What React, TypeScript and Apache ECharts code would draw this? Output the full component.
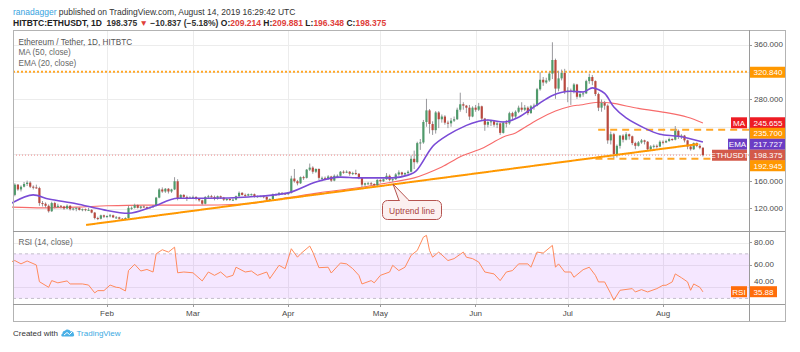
import React, { useEffect, useRef } from "react";
import * as echarts from "echarts";

const FONT = "Liberation Sans";

// Day index 0 = 2019-01-01
const monthDays = [31, 59, 90, 120, 151, 181, 212];
const monthLabels = ["Feb", "Mar", "Apr", "May", "Jun", "Jul", "Aug"];
const priceGrid = [120, 160, 200, 240, 280, 320, 360];
const priceLabels = [120, 160, 280, 360];
const rsiGrid = [40, 60, 80];
const rsiLabels = [60, 80];

// daily candles [open, high, low, close], HITBTC ETH/USDT from Jan 1 2019
const candles: number[][] = [
  [133, 142, 131, 140], [140, 157, 138, 155], [155, 156, 146, 148], [148, 154, 145, 152], [152, 159, 151, 156],
  [156, 161, 153, 158], [158, 160, 150, 152], [152, 154, 148, 151], [151, 155, 149, 150], [150, 152, 124, 128],
  [128, 131, 123, 127], [127, 129, 121, 124], [124, 126, 114, 116], [116, 130, 115, 128], [128, 130, 120, 122],
  [122, 127, 121, 124], [124, 125, 120, 123], [123, 124, 118, 120], [120, 126, 119, 124], [124, 125, 117, 119],
  [119, 121, 117, 120], [120, 122, 116, 121], [121, 122, 117, 118], [118, 120, 116, 119], [119, 120, 116, 118],
  [118, 121, 117, 118], [118, 119, 113, 114], [114, 115, 104, 106], [106, 108, 103, 105], [105, 111, 104, 110],
  [110, 111, 106, 108],
  [108, 110, 106, 109], [109, 112, 107, 110], [110, 111, 106, 107], [107, 109, 105, 107], [107, 108, 104, 105],
  [105, 106, 102, 104], [104, 107, 103, 106], [106, 124, 105, 121], [121, 123, 118, 121], [121, 127, 120, 125],
  [125, 126, 120, 121], [121, 124, 119, 123], [123, 125, 121, 122], [122, 123, 119, 121], [121, 123, 120, 122],
  [122, 125, 121, 124], [124, 137, 123, 136], [136, 150, 135, 148], [148, 151, 143, 145], [145, 150, 143, 149],
  [149, 150, 142, 145], [145, 149, 143, 148], [148, 166, 147, 160], [160, 163, 132, 135], [135, 141, 134, 140],
  [140, 141, 135, 137], [137, 139, 131, 136], [136, 138, 134, 136],
  [136, 139, 135, 137], [137, 138, 132, 134], [134, 135, 130, 132], [132, 133, 125, 127], [127, 138, 126, 137],
  [137, 140, 135, 138], [138, 140, 136, 137], [137, 139, 132, 134], [134, 139, 133, 138], [138, 139, 134, 136],
  [136, 137, 131, 133], [133, 135, 131, 134], [134, 135, 131, 133], [133, 135, 131, 133], [133, 139, 132, 138],
  [138, 145, 137, 143], [143, 144, 139, 140], [140, 142, 137, 139], [139, 142, 138, 141], [141, 142, 139, 141],
  [141, 142, 136, 137], [137, 139, 136, 138], [138, 139, 137, 138], [138, 139, 135, 137], [137, 138, 132, 133],
  [133, 135, 132, 134], [134, 142, 133, 141], [141, 142, 139, 141], [141, 144, 139, 143], [143, 144, 140, 142],
  [142, 143, 140, 141],
  [141, 144, 140, 143], [143, 168, 142, 164], [164, 178, 158, 160], [160, 162, 154, 157], [157, 167, 156, 166],
  [166, 168, 162, 165], [165, 178, 164, 177], [177, 186, 175, 180], [180, 182, 171, 174], [174, 179, 172, 178],
  [178, 179, 162, 165], [165, 167, 160, 165], [165, 167, 162, 164], [164, 169, 162, 167], [167, 168, 159, 161],
  [161, 170, 160, 168], [168, 170, 166, 168], [168, 175, 167, 174], [174, 176, 171, 173], [173, 176, 172, 174],
  [174, 175, 168, 171], [171, 174, 169, 172], [172, 177, 169, 171], [171, 172, 163, 165], [165, 166, 151, 155],
  [155, 158, 152, 157], [157, 159, 155, 157], [157, 159, 154, 156], [156, 157, 151, 154], [154, 163, 153, 162],
  [162, 163, 158, 160], [160, 164, 159, 163], [163, 172, 162, 168], [168, 170, 160, 162], [162, 164, 159, 163],
  [163, 172, 162, 170], [170, 176, 168, 173], [173, 174, 167, 170], [170, 173, 168, 172], [172, 176, 170, 174],
  [174, 198, 173, 193], [193, 205, 178, 188], [188, 218, 186, 216], [216, 222, 206, 217], [217, 250, 215, 247],
  [247, 281, 240, 264], [264, 266, 230, 244], [244, 248, 228, 235], [235, 263, 230, 261], [261, 263, 238, 251],
  [251, 258, 246, 255], [255, 257, 243, 246], [246, 249, 238, 245], [245, 253, 240, 249], [249, 255, 247, 251],
  [251, 268, 250, 265], [265, 290, 262, 273], [273, 276, 265, 271], [271, 272, 260, 268], [268, 272, 250, 255],
  [255, 270, 254, 268],
  [268, 272, 262, 265], [265, 275, 263, 270], [270, 271, 249, 252], [252, 253, 234, 243], [243, 251, 239, 247],
  [247, 250, 241, 248], [248, 250, 240, 243], [243, 248, 238, 245], [245, 246, 228, 231], [231, 248, 230, 246],
  [246, 250, 239, 245], [245, 262, 243, 260], [260, 262, 251, 255], [255, 264, 253, 262], [262, 271, 260, 268],
  [268, 276, 262, 265], [265, 272, 263, 268], [268, 270, 257, 260], [260, 272, 259, 270], [270, 274, 265, 271],
  [271, 297, 270, 295], [295, 320, 293, 309], [309, 313, 300, 305], [305, 312, 303, 308], [308, 320, 306, 318],
  [318, 364, 310, 338], [338, 340, 281, 296], [296, 322, 292, 311], [311, 324, 308, 319], [319, 325, 288, 291],
  [291, 298, 276, 293], [293, 296, 272, 291], [291, 304, 289, 302], [302, 303, 281, 284], [284, 292, 282, 288],
  [288, 292, 284, 289], [289, 309, 288, 307], [307, 318, 303, 313], [313, 316, 301, 307], [307, 308, 285, 288],
  [288, 290, 263, 268], [268, 280, 262, 275], [275, 278, 265, 271], [271, 273, 215, 220], [220, 233, 214, 229],
  [229, 231, 194, 200], [200, 214, 195, 212], [212, 228, 208, 227], [227, 229, 217, 221], [221, 232, 220, 229],
  [229, 230, 221, 226], [226, 227, 213, 216], [216, 218, 207, 212], [212, 219, 211, 217], [217, 222, 215, 220],
  [220, 221, 214, 218], [218, 219, 204, 207], [207, 213, 205, 211], [211, 214, 208, 212], [212, 214, 208, 211],
  [211, 220, 210, 218],
  [218, 220, 214, 217], [217, 221, 216, 219], [219, 224, 218, 222], [222, 223, 219, 221], [221, 241, 220, 234],
  [234, 236, 222, 225], [225, 229, 222, 227], [227, 228, 217, 220], [220, 221, 207, 211], [211, 213, 205, 207],
  [207, 217, 206, 216], [216, 217, 210, 212], [212, 215, 207, 209.214], [209.214, 209.881, 196.348, 198.375],
];

// [day, value]
const ma50 = [
  [0, 122], [10, 121], [21, 122], [31, 124], [43, 125], [59, 125], [77, 127], [90, 136], [100, 143], [112, 150],
  [120, 156], [131, 165], [140, 181], [146, 196], [150, 203], [153, 208], [160, 225], [164, 231], [171, 250],
  [177, 263], [182, 270], [185, 272], [191, 276], [195, 275], [204, 267], [214, 260], [220, 254], [225, 245.655],
];
const ema20 = [
  [0, 128], [7, 140], [12, 134], [21, 127], [30, 118], [38, 113], [46, 123], [54, 135], [64, 135], [77, 137],
  [90, 143], [99, 159], [107, 166], [113, 165], [118, 165], [124, 165], [129, 169], [132, 177], [137, 211],
  [142, 228], [148, 242], [152, 248], [155, 250], [160, 247], [165, 254], [171, 272], [176, 286], [182, 292],
  [186, 291], [189, 297], [193, 289], [196, 269], [200, 253], [206, 238], [211, 229], [217, 226], [225, 217.727],
];
const rsi14 = [
  [0, 63], [1, 64], [3, 61], [5, 63.6], [8, 60], [9, 45], [12, 40], [13, 46], [15, 44], [18, 45.7], [19, 43],
  [23, 43], [25, 42], [27, 35], [28, 37], [30, 37], [32, 42], [34, 40], [35, 39.7], [37, 36.7], [38, 55],
  [40, 60.6], [42, 54.6], [44, 56], [46, 53.7], [47, 70], [49, 73.7], [51, 71.6], [53, 76], [54, 53],
  [56, 53.7], [59, 53], [62, 45.7], [64, 53.7], [66, 50.7], [68, 53.7], [70, 49], [72, 50.7], [73, 58],
  [76, 53.7], [78, 54.6], [80, 50.7], [83, 53.7], [84, 47.8], [87, 59.7], [89, 56.7], [91, 74.6], [93, 67],
  [94, 70], [97, 77], [98, 71.6], [100, 57.6], [103, 58], [104, 52.8], [107, 61.8], [109, 61], [111, 56.7],
  [113, 50.7], [114, 43], [117, 46], [118, 44], [120, 50.7], [123, 53.7], [124, 59.7], [126, 55], [128, 58],
  [130, 68.7], [132, 73], [134, 85], [135, 86.6], [136, 73], [137, 67], [139, 71.6], [142, 64], [144, 65.7],
  [147, 71.6], [148, 67], [150, 65.7], [152, 62.7], [154, 53.7], [157, 52], [159, 46], [161, 53.7], [163, 55],
  [165, 61], [168, 61], [169, 58], [171, 71.6], [173, 70.7], [176, 77.6], [177, 58], [178, 61], [180, 53.7],
  [182, 53.7], [183, 49], [186, 55.8], [188, 58], [190, 50.7], [191, 44.8], [193, 44.8], [195, 34.3],
  [196, 28.4], [198, 37.3], [202, 38.8], [203, 35.8], [205, 37.9], [207, 35.8], [210, 38.8], [212, 41.8],
  [213, 41.8], [215, 44.8], [216, 52], [218, 48.6], [220, 44.8], [221, 37.3], [222, 43], [224, 40], [225, 35.88],
];

const trendLine = [[24.2, 95.9], [223.5, 214.6]];
const resistance = 320.84;
const rangeTop = 235.7;
const rangeBottom = 192.945;
const lastPrice = 198.375;
const lastMA = 245.655;
const lastEMA = 217.727;
const lastRSI = 35.88;

const X_MIN = 0.4;
const X_MAX = 240;

echarts.graphic.registerShape(
  "tvlogo",
  echarts.graphic.extendPath(
    "M1 9 L13 9 C14.6 9 15.2 7.2 14.2 6.2 C14.4 3.8 12.4 2.6 10.6 3.2 C9.6 0.6 5.8 0.2 4.4 2.6 C2.4 2.6 1.4 4.2 1.8 5.6 C0.2 6.2 -0.2 8.2 1 9 Z",
    {}
  ) as any
);

function hLines(xAxisIndex: number, yAxisIndex: number, values: number[], color: string) {
  return {
    type: "custom", xAxisIndex, yAxisIndex, silent: true, z: 1,
    data: values.map((v) => [X_MIN, v]),
    renderItem: (params: any, api: any) => {
      const cs = params.coordSys;
      const y = Math.round(api.coord([api.value(0), api.value(1)])[1]) + 0.5;
      return { type: "line", shape: { x1: cs.x, y1: y, x2: cs.x + cs.width, y2: y }, style: { stroke: color, lineWidth: 1 } };
    },
  };
}
function vLines(xAxisIndex: number, yAxisIndex: number, values: number[], yRef: number, color: string) {
  return {
    type: "custom", xAxisIndex, yAxisIndex, silent: true, z: 1,
    data: values.map((v) => [v, yRef]),
    renderItem: (params: any, api: any) => {
      const cs = params.coordSys;
      const x = Math.round(api.coord([api.value(0), api.value(1)])[0]) + 0.5;
      return { type: "line", shape: { x1: x, y1: cs.y, x2: x, y2: cs.y + cs.height }, style: { stroke: color, lineWidth: 1 } };
    },
  };
}
function levelLine(data: number[][], color: string, width: number, dash: number[], z = 4, xi = 0, yi = 0) {
  return {
    type: "line", xAxisIndex: xi, yAxisIndex: yi, data, silent: true, showSymbol: false, z,
    lineStyle: { color, width, type: dash },
  };
}

function buildGraphic() {
  const g: any[] = [];
  const txt = (x: number, y: number, text: string, fill: string, size: number, extra: any = {}, z = 120) =>
    g.push({ type: "text", x, y, z, style: { text, fill, fontSize: size, fontFamily: FONT, verticalAlign: "middle", ...extra } });
  const ln = (x1: number, y1: number, x2: number, y2: number, stroke: string) =>
    g.push({ type: "line", z: 110, shape: { x1, y1, x2, y2 }, style: { stroke, lineWidth: 1 } });
  const badge = (x: number, cy: number, w: number, text: string, bg: string, center = false) => {
    g.push({ type: "rect", z: 115, shape: { x, y: cy - 5.5, width: w, height: 11 }, style: { fill: bg } });
    txt(center ? x + w / 2 : x + 3.5, cy + 0.5, text, "#ffffff", 8, center ? { align: "center" } : {});
  };

  // header
  txt(13, 11.5, "{u|ranadagger} published on TradingView.com, August 14, 2019 16:29:42 UTC", "#333333", 8.5, {
    rich: { u: { fill: "#36a3e0", fontSize: 8.5, fontFamily: FONT } },
  });
  txt(13, 22.5,
    "{b|HITBTC:ETHUSDT, 1D}  198.375 {r|▼} −10.837 (−5.18%) {b|O:}{r|209.214} {b|H:}{r|209.881} {b|L:}{r|196.348} {b|C:}{r|198.375}",
    "#333333", 8.5, {
      fontWeight: 600,
      rich: {
        b: { fill: "#222222", fontWeight: "bold", fontSize: 8.5, fontFamily: FONT },
        r: { fill: "#e0403a", fontSize: 8.5, fontFamily: FONT, fontWeight: 600 },
      },
    });

  // frame
  const frame = "#b3b3b3";
  ln(13, 30.5, 785, 30.5, frame);
  ln(13.5, 30, 13.5, 321, frame);
  ln(785.5, 30, 785.5, 322, frame);
  ln(13, 321.5, 786, 321.5, frame);
  ln(749.5, 30, 749.5, 321, "#9a9a9a");
  ln(13, 231.5, 785, 231.5, "#9a9a9a");
  ln(13, 304.5, 785, 304.5, "#9a9a9a");

  // legends
  txt(18.5, 42, "Ethereum / Tether, 1D, HITBTC", "#555555", 8.2);
  txt(18.5, 52.5, "MA (50, close)", "#666666", 8.2);
  txt(18.5, 63, "EMA (20, close)", "#666666", 8.2);
  txt(18.5, 242.5, "RSI (14, close)", "#666666", 8.2);

  // RSI 40 scale label, partly under the RSI badge
  txt(754, 281.8, (40).toFixed(2), "#4a4a4a", 8, {}, 105);

  // price scale badges
  badge(750, 72.2, 35, resistance.toFixed(3), "#ff9800");
  badge(731, 122.8, 16, "MA", "#ee1c24", true);
  badge(750, 122.8, 35, lastMA.toFixed(3), "#ee1c24");
  badge(750, 133.3, 35, rangeTop.toFixed(3), "#ff9800");
  badge(728, 144.2, 19, "EMA", "#6b3cc4", true);
  badge(750, 144.2, 35, lastEMA.toFixed(3), "#6b3cc4");
  badge(712, 155.3, 35, "ETHUSDT", "#d35a4a", true);
  badge(750, 155.3, 35, lastPrice.toFixed(3), "#d35a4a");
  badge(750, 165.7, 35, rangeBottom.toFixed(3), "#ff9800");
  badge(731, 291.7, 16, "RSI", "#ff6d0a", true);
  badge(750, 291.7, 27, lastRSI.toFixed(2), "#ff6d0a");

  // callout
  const cFill = "#fcf0f0";
  const cStroke = "#b5534f";
  g.push({ type: "polygon", z: 116, shape: { points: [[393, 184], [399, 200.5], [409, 200.5]] }, style: { fill: cFill, stroke: cStroke, lineWidth: 1 } });
  g.push({ type: "rect", z: 116, shape: { x: 382.5, y: 200.5, width: 59, height: 19, r: 5 }, style: { fill: cFill, stroke: cStroke, lineWidth: 1 } });
  g.push({ type: "line", z: 117, shape: { x1: 399.8, y1: 200.5, x2: 408.2, y2: 200.5 }, style: { stroke: cFill, lineWidth: 1.6 } });
  txt(412, 210.5, "Uptrend line", "#a8443e", 8.5, { align: "center" });

  // footer
  txt(13, 333.5, "Created with", "#333333", 8);
  g.push({ type: "tvlogo", z: 120, x: 61, y: 328.5, scaleX: 0.9, scaleY: 0.9, shape: {}, style: { fill: "#49b0e6" } });
  g.push({ type: "polyline", z: 121, shape: { points: [[64, 335], [67, 332.5], [69.5, 334.5], [72.5, 331.5]] }, style: { stroke: "#ffffff", lineWidth: 1, fill: "none" } });
  txt(76.5, 333.5, "TradingView", "#3ba9e2", 8);
  return g;
}

function buildOption(): any {
  const axisLabelBase = { color: "#4a4a4a", fontSize: 8, fontFamily: FONT };
  return {
    animation: false,
    backgroundColor: "#ffffff",
    grid: [
      { left: 13, top: 30, width: 736, height: 201 },
      { left: 13, top: 231, width: 736, height: 73 },
    ],
    xAxis: [
      { type: "value", gridIndex: 0, min: X_MIN, max: X_MAX, show: false },
      {
        type: "value", gridIndex: 1, min: X_MIN, max: X_MAX,
        axisLine: { show: false },
        axisTick: { show: true, customValues: monthDays, length: 3, lineStyle: { color: "#9a9a9a" } },
        axisLabel: {
          ...axisLabelBase, customValues: monthDays, margin: 5,
          formatter: (v: number) => monthLabels[monthDays.indexOf(Math.round(v))] ?? "",
        },
        splitLine: { show: false },
      },
    ],
    yAxis: [
      {
        type: "value", gridIndex: 0, position: "right", min: 87, max: 382,
        axisLine: { show: false },
        axisTick: { show: true, customValues: priceGrid, length: 3, lineStyle: { color: "#9a9a9a" } },
        axisLabel: { ...axisLabelBase, customValues: priceLabels, margin: 5, formatter: (v: number) => v.toFixed(3) },
        splitLine: { show: false },
      },
      {
        type: "value", gridIndex: 1, position: "right", min: 25, max: 90.5,
        axisLine: { show: false },
        axisTick: { show: true, customValues: rsiGrid, length: 3, lineStyle: { color: "#9a9a9a" } },
        axisLabel: { ...axisLabelBase, customValues: rsiLabels, margin: 5, formatter: (v: number) => v.toFixed(2) },
        splitLine: { show: false },
      },
    ],
    series: [
      hLines(0, 0, priceGrid, "#ececec"),
      vLines(0, 0, monthDays, 200, "#ececec"),
      hLines(1, 1, rsiGrid, "#ececec"),
      vLines(1, 1, monthDays, 50, "#ececec"),
      {
        type: "custom", xAxisIndex: 1, yAxisIndex: 1, silent: true, z: 2,
        data: [[X_MIN, 70, X_MAX, 30]],
        renderItem: (params: any, api: any) => {
          const a = api.coord([api.value(0), api.value(1)]);
          const b = api.coord([api.value(2), api.value(3)]);
          return { type: "rect", shape: { x: a[0], y: a[1], width: b[0] - a[0], height: b[1] - a[1] }, style: { fill: "rgba(153,21,255,0.1)" } };
        },
      },
      levelLine([[X_MIN, 70], [X_MAX, 70]], "#c4bfcc", 1, [3, 3], 3, 1, 1),
      levelLine([[X_MIN, 30], [X_MAX, 30]], "#c4bfcc", 1, [3, 3], 3, 1, 1),
      levelLine([[X_MIN, lastPrice], [X_MAX, lastPrice]], "#ef8a8a", 1, [1, 2], 3),
      levelLine([[X_MIN, resistance], [X_MAX, resistance]], "#ffa726", 2, [2, 2], 4),
      levelLine([[190.9, rangeTop], [X_MAX, rangeTop]], "#ffa726", 2, [7, 5], 4),
      levelLine([[190, rangeBottom], [X_MAX, rangeBottom]], "#ffa726", 2, [7, 5], 4),
      {
        type: "line", xAxisIndex: 0, yAxisIndex: 0, data: ma50, smooth: 0.3, showSymbol: false, silent: true, z: 5,
        lineStyle: { color: "#f76b6b", width: 1.1 },
      },
      {
        type: "custom", xAxisIndex: 0, yAxisIndex: 0, clip: true, z: 6,
        data: candles.map((c, i) => [i, c[0], c[1], c[2], c[3]]),
        encode: { x: 0, y: [1, 2, 3, 4] },
        renderItem: (params: any, api: any) => {
          const d = api.value(0);
          const o = api.value(1), h = api.value(2), l = api.value(3), c = api.value(4);
          const pO = api.coord([d, o]), pC = api.coord([d, c]), pH = api.coord([d, h]), pL = api.coord([d, l]);
          const up = c >= o;
          const x = pO[0];
          const top = Math.min(pO[1], pC[1]);
          const hgt = Math.max(Math.abs(pO[1] - pC[1]), 1);
          return {
            type: "group",
            children: [
              { type: "line", shape: { x1: x, y1: pH[1], x2: x, y2: pL[1] }, style: { stroke: "#98989c", lineWidth: 1 } },
              { type: "rect", shape: { x: x - 1.1, y: top, width: 2.2, height: hgt }, style: { fill: up ? "#4f9a6b" : "#b9493f" } },
            ],
          };
        },
      },
      {
        type: "line", xAxisIndex: 0, yAxisIndex: 0, data: ema20, smooth: 0.3, showSymbol: false, silent: true, z: 7,
        lineStyle: { color: "#7a4bd6", width: 1.6 },
      },
      levelLine(trendLine, "#ff9800", 2, [1, 0], 8),
      {
        type: "line", xAxisIndex: 1, yAxisIndex: 1, data: rsi14, showSymbol: false, silent: true, z: 6,
        lineStyle: { color: "#ff8a5c", width: 1 },
      },
    ],
    graphic: { elements: buildGraphic() },
  };
}

export default function App() {
  const ref = useRef<HTMLDivElement>(null);
  useEffect(() => {
    const chart = echarts.init(ref.current!, null, { renderer: "svg" });
    chart.setOption(buildOption());
    return () => chart.dispose();
  }, []);
  return <div ref={ref} style={{ width: 800, height: 352, position: "absolute", left: 0, top: 0 }} />;
}
